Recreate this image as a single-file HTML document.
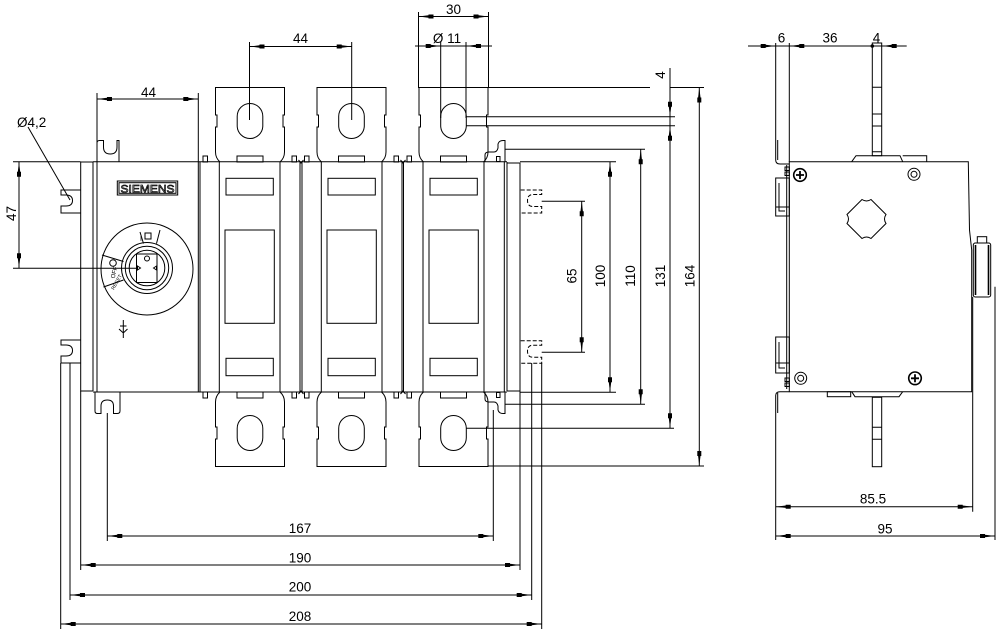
<!DOCTYPE html>
<html><head><meta charset="utf-8">
<style>
html,body{margin:0;padding:0;background:#fff;}
svg{display:block;}
text{font-family:"Liberation Sans",sans-serif;font-size:13.5px;fill:#000;}
</style></head><body>
<svg width="1000" height="632" viewBox="0 0 1000 632" xmlns="http://www.w3.org/2000/svg">
<rect x="0" y="0" width="1000" height="632" fill="#fff"/>
<defs>
<g id="tt" fill="none" stroke="#000" stroke-width="1">
  <path d="M220,162 Q215.5,158 215.5,152 V127 H217 V115 H215.5 V87.5 H284.5 V115 H283 V127 H284.5 V152 Q284.5,158 280,162"/>
  <rect x="237.2" y="103.5" width="25.6" height="35" rx="12.8"/>
  <path d="M321.5,162 Q317,158 317,152 V127 H318.5 V115 H317 V87.5 H386 V115 H384.5 V127 H386 V152 Q386,158 381.5,162"/>
  <rect x="338.7" y="103.5" width="25.6" height="35" rx="12.8"/>
  <path d="M423.5,162 Q419,158 419,152 V127 H420.5 V115 H419 V87.5 H488 V115 H486.5 V127 H488 V152 Q488,158 483.5,162"/>
  <rect x="440.7" y="103.5" width="25.6" height="35" rx="12.8"/>
  <rect x="203" y="156" width="4.5" height="6"/>
  <rect x="292" y="156" width="4.5" height="6"/>
  <rect x="304.5" y="156" width="4.5" height="6"/>
  <rect x="394" y="156" width="4.5" height="6"/>
  <rect x="407" y="156" width="4.5" height="6"/>
  <rect x="237" y="156" width="26" height="6"/>
  <rect x="338.5" y="156" width="26" height="6"/>
  <rect x="440.5" y="156" width="26" height="6"/>
  <path d="M485,162 V155 Q485,152 489,152 L494,152 Q497,152 498,148 V144 Q499,140.5 503,140.5 H505 V162"/>
  <rect x="496.5" y="156.5" width="3.5" height="5"/>
  <path d="M298.5,160 L301,163 L303.5,160 M400.5,160 L403,163 L405.5,160"/>
</g>
</defs>

<g fill="none" stroke="#000" stroke-width="1">
<use href="#tt"/>
<use href="#tt" transform="translate(0,554) scale(1,-1)"/>

<path d="M80.7,162 H93 M80.7,162 V391 H93 M93,162 V391 M97,162 V392"/>
<path d="M93,161.7 H507 M93,392 H507"/>
<path d="M507,162 V391 M507,163 H520 V391 H507"/>
<path d="M198.3,162 V392 M200,162 V392 M219.3,162 V392 M280,162 V392 M300,162 V392 M302,162 V392 M321.3,162 V392 M382,162 V392 M402,162 V392 M403.5,162 V392 M423,162 V392 M484,162 V392 M504.3,162 V392"/>

<rect x="226" y="178.3" width="47.3" height="16.7"/>
<rect x="225" y="230" width="49.3" height="93.3"/>
<rect x="226" y="358.3" width="47.3" height="17.4"/>
<rect x="328" y="178.3" width="47.3" height="16.7"/>
<rect x="327" y="230" width="49.3" height="93.3"/>
<rect x="328" y="358.3" width="47.3" height="17.4"/>
<rect x="430" y="178.3" width="47.3" height="16.7"/>
<rect x="429" y="230" width="49.3" height="93.3"/>
<rect x="430" y="358.3" width="47.3" height="17.4"/>

<path d="M97,162 V143 Q97,140.5 99.5,140.5 H103.5 V147 Q103.5,154 110.3,154 Q117,154 117,147 V140.5 H119 V162"/>
<path d="M95,392 V411 Q95,413.5 97.5,413.5 H101 V406 Q101,400 107.3,400 Q113.5,400 113.5,406 V413.5 H117 Q120,413.5 120,411 V392"/>

<path d="M80.7,190 H61 V195 H66 Q72.5,195 72.5,200.5 Q72.5,206 66,206 H61 V213 H80.7"/>
<path d="M80.7,340 H61 V345 H66 Q72.5,345 72.5,350.5 Q72.5,356 66,356 H61 V363 H80.7"/>
<path stroke-dasharray="4,2" d="M520.7,190 H541.7 V194.5 H533 Q527.5,194.5 527.5,200.5 Q527.5,206.5 533,206.5 H541.7 V213 H520.7"/>
<path stroke-dasharray="4,2" d="M520.7,340.7 H541.7 V345.2 H533 Q527.5,345.2 527.5,351.2 Q527.5,357.2 533,357.2 H541.7 V363.3 H520.7"/>

<rect x="117.3" y="181" width="60.4" height="14"/>
<rect x="119" y="182.7" width="57" height="10.6"/>

<circle cx="147" cy="269" r="46"/>
<circle cx="147" cy="268" r="25.5"/>
<circle cx="147" cy="268" r="21.7"/>
<circle cx="147" cy="268" r="17.8"/>
<rect x="136.5" y="254" width="20.5" height="28.5"/>
<circle cx="147" cy="258.5" r="2.5"/>
<path d="M140.5,268 L137.5,266 V270 Z M153.5,268 L156.5,266 V270 Z"/>
<path d="M140,232 L143.5,243.5 M160,230 L156.5,243.5"/>
<rect x="145" y="233" width="6" height="6"/>
<path d="M102,255 L123.5,261.5 M103.5,287 L123.5,280"/>
<circle cx="113" cy="263" r="3.3"/>
<path d="M123.3,320 V338 M119,329 L123.3,333 L127.5,329 M120,326 H126.5"/>

<path d="M97,93 V162 M198.3,93 V162"/>
<path d="M13,161.7 H80.7 M13,268.3 H137"/>
<path d="M28,127 L70,200"/>
<path d="M249.5,42 V120 M351.7,42 V120"/>
<path d="M418.5,12 V88 M488.5,12 V88"/>
<path d="M440.7,42 V118 M466,42 V118"/>
<path d="M488,87.5 H650 M670,87.5 H704"/>
<path d="M466,116.7 H675 M466,125.7 H675"/>
<path d="M505,149.3 H645 M520,161.7 H616"/>
<path d="M541.7,201.3 H585 M541.7,352.3 H585"/>
<path d="M520,392.3 H616 M505,404.3 H645 M466,428.3 H674 M488,466 H704"/>
<path d="M60.7,363 V629 M70,363 V600 M80.7,391 V570 M107.3,413 V541"/>
<path d="M493.3,410 V541 M520,391 V570 M531.7,363 V600 M541.7,363 V629"/>

<path d="M97,99 H198.3"/>
<path d="M249.5,46.5 H351.7"/>
<path d="M418.5,16.5 H488.5"/>
<path d="M415,46 H492"/>
<path d="M19,161.7 V268.3"/>
<path d="M581.7,201.3 V352.3"/>
<path d="M610,161.7 V392.3"/>
<path d="M640.7,149.3 V404.3"/>
<path d="M670,68 V428.3"/>
<path d="M699.3,87.5 V466"/>
<path d="M107.3,536 H493.3"/>
<path d="M80.7,565 H520"/>
<path d="M70,595 H531.7"/>
<path d="M60.7,624 H541.7"/>

<!-- side view -->
<path d="M789.3,161.7 H968.3 L969.5,230 L971.7,250 V391.7 H789.3 Z"/>
<path d="M786.7,165 V389"/>
<path d="M775.7,43 V160 Q775.7,164 780,164 H789.3 M777.7,140 V160"/>
<path d="M775.7,540 V395.5 Q775.7,391.7 780,391.7 H789.3 M777.7,393 V413"/>
<rect x="775.7" y="178" width="13.6" height="38"/>
<path d="M779,183 V211 H785 M775.7,207 H789.3"/>
<rect x="775.7" y="337" width="13.6" height="36"/>
<path d="M779,342 V368 H785 M775.7,363 H789.3"/>
<rect x="785" y="167" width="4.3" height="3.5"/>
<rect x="785" y="172" width="4.3" height="3.5"/>
<rect x="785" y="378" width="4.3" height="3.5"/>
<rect x="785" y="383" width="4.3" height="3.5"/>
<rect x="872.3" y="43" width="9.4" height="112.7"/>
<path d="M872.3,87.3 H881.7 M872.3,114 H881.7 M872.3,126 H881.7 M872.3,151.7 H881.7"/>
<path d="M851.7,161.7 L856,155.7 H900 L902.7,161.7 M902.7,155.7 H926.7 V161.7"/>
<rect x="872.3" y="397.3" width="9.4" height="69.4"/>
<path d="M872.3,427.3 H881.7 M872.3,439.3 H881.7"/>
<path d="M851.7,391.7 L855,396.7 H899 L902.7,391.7"/>
<rect x="827.3" y="391.7" width="23.4" height="5"/>
<circle cx="800" cy="175" r="6.3" stroke-width="1.6"/>
<path d="M800,171 V179 M796,175 H804" stroke-width="1.8"/>
<circle cx="914" cy="174.3" r="6"/>
<circle cx="914" cy="174.3" r="3"/>
<circle cx="800.7" cy="378.3" r="6"/>
<circle cx="800.7" cy="378.3" r="3"/>
<circle cx="915" cy="378.3" r="6.3" stroke-width="1.6"/>
<path d="M915,374.3 V382.3 M911,378.3 H919" stroke-width="1.8"/>
<path d="M862,199.5 Q866.5,202.5 871,199.5 L886,214.5 Q883,219 886,223.5 L871,238.5 Q866.5,235.5 862,238.5 L847,223.5 Q850,219 847,214.5 Z"/>
<rect x="973.3" y="243" width="17.4" height="54" rx="2"/>
<path d="M975.5,245 V295 M988.5,245 V295" stroke-width="1.6"/>
<rect x="977.3" y="236.7" width="9.4" height="6.3"/>

<path d="M789.3,43 V162"/>
<path d="M972.7,297 V511.7 M995,286.7 V540"/>
<path d="M748,46 H906.7"/>
<path d="M775.7,506.7 H972.7"/>
<path d="M775.7,536 H995"/>
</g>

<g fill="#000" stroke="none">
<path d="M97,99 l10,-1.2 v-0.8 h5 v4 h-5 v-0.8 z"/>
<path d="M198.3,99 l-10,-1.2 v-0.8 h-5 v4 h5 v-0.8 z"/>
<path d="M249.5,46.5 l10,-1.2 v-0.8 h5 v4 h-5 v-0.8 z"/>
<path d="M351.7,46.5 l-10,-1.2 v-0.8 h-5 v4 h5 v-0.8 z"/>
<path d="M418.5,16.5 l10,-1.2 v-0.8 h5 v4 h-5 v-0.8 z"/>
<path d="M488.5,16.5 l-10,-1.2 v-0.8 h-5 v4 h5 v-0.8 z"/>
<path d="M440.7,46 l-10,-1.2 v-0.8 h-5 v4 h5 v-0.8 z"/>
<path d="M466,46 l10,-1.2 v-0.8 h5 v4 h-5 v-0.8 z"/>
<path d="M107.3,536 l10,-1.2 v-0.8 h5 v4 h-5 v-0.8 z"/>
<path d="M493.3,536 l-10,-1.2 v-0.8 h-5 v4 h5 v-0.8 z"/>
<path d="M80.7,565 l10,-1.2 v-0.8 h5 v4 h-5 v-0.8 z"/>
<path d="M520,565 l-10,-1.2 v-0.8 h-5 v4 h5 v-0.8 z"/>
<path d="M70,595 l10,-1.2 v-0.8 h5 v4 h-5 v-0.8 z"/>
<path d="M531.7,595 l-10,-1.2 v-0.8 h-5 v4 h5 v-0.8 z"/>
<path d="M60.7,624 l10,-1.2 v-0.8 h5 v4 h-5 v-0.8 z"/>
<path d="M541.7,624 l-10,-1.2 v-0.8 h-5 v4 h5 v-0.8 z"/>
<path d="M775.7,506.7 l10,-1.2 v-0.8 h5 v4 h-5 v-0.8 z"/>
<path d="M972.7,506.7 l-10,-1.2 v-0.8 h-5 v4 h5 v-0.8 z"/>
<path d="M775.7,536 l10,-1.2 v-0.8 h5 v4 h-5 v-0.8 z"/>
<path d="M995,536 l-10,-1.2 v-0.8 h-5 v4 h5 v-0.8 z"/>
<path d="M775.7,46 l-10,-1.2 v-0.8 h-5 v4 h5 v-0.8 z"/>
<path d="M789.3,46 l10,-1.2 v-0.8 h5 v4 h-5 v-0.8 z"/>
<circle cx="872.3" cy="46" r="1.8"/>
<path d="M881.7,46 l10,-1.2 v-0.8 h5 v4 h-5 v-0.8 z"/>
<path d="M19,161.7 l-1.2,10 h-0.8 v5 h4 v-5 h-0.8 z"/>
<path d="M19,268.3 l-1.2,-10 h-0.8 v-5 h4 v5 h-0.8 z"/>
<path d="M581.7,201.3 l-1.2,10 h-0.8 v5 h4 v-5 h-0.8 z"/>
<path d="M581.7,352.3 l-1.2,-10 h-0.8 v-5 h4 v5 h-0.8 z"/>
<path d="M610,161.7 l-1.2,10 h-0.8 v5 h4 v-5 h-0.8 z"/>
<path d="M610,392.3 l-1.2,-10 h-0.8 v-5 h4 v5 h-0.8 z"/>
<path d="M640.7,149.3 l-1.2,10 h-0.8 v5 h4 v-5 h-0.8 z"/>
<path d="M640.7,404.3 l-1.2,-10 h-0.8 v-5 h4 v5 h-0.8 z"/>
<path d="M670,116.7 l-1.2,-10 h-0.8 v-5 h4 v5 h-0.8 z"/>
<path d="M670,125.7 l-1.2,10 h-0.8 v5 h4 v-5 h-0.8 z"/>
<path d="M670,428.3 l-1.2,-10 h-0.8 v-5 h4 v5 h-0.8 z"/>
<path d="M699.3,87.5 l-1.2,10 h-0.8 v5 h4 v-5 h-0.8 z"/>
<path d="M699.3,466 l-1.2,-10 h-0.8 v-5 h4 v5 h-0.8 z"/>
</g>

<text x="148.5" y="97" text-anchor="middle">44</text>
<text x="17" y="127">Ø4,2</text>
<text x="0" y="0" text-anchor="middle" transform="translate(16,213.5) rotate(-90)">47</text>
<text x="300.5" y="43" text-anchor="middle">44</text>
<text x="453.5" y="14" text-anchor="middle">30</text>
<text x="447" y="43" text-anchor="middle">Ø 11</text>
<text x="0" y="0" text-anchor="middle" transform="translate(665,75) rotate(-90)">4</text>
<text x="0" y="0" text-anchor="middle" transform="translate(576.5,276) rotate(-90)">65</text>
<text x="0" y="0" text-anchor="middle" transform="translate(605,276) rotate(-90)">100</text>
<text x="0" y="0" text-anchor="middle" transform="translate(635,276) rotate(-90)">110</text>
<text x="0" y="0" text-anchor="middle" transform="translate(665,276) rotate(-90)">131</text>
<text x="0" y="0" text-anchor="middle" transform="translate(694.5,276) rotate(-90)">164</text>
<text x="300" y="533" text-anchor="middle">167</text>
<text x="300" y="562.5" text-anchor="middle">190</text>
<text x="300" y="591.5" text-anchor="middle">200</text>
<text x="300" y="621" text-anchor="middle">208</text>
<text x="781.5" y="42.7" text-anchor="middle">6</text>
<text x="830" y="42.7" text-anchor="middle">36</text>
<text x="876.5" y="42.7" text-anchor="middle">4</text>
<text x="873" y="503.3" text-anchor="middle">85.5</text>
<text x="885" y="533.3" text-anchor="middle">95</text>
<text x="147.5" y="192.3" text-anchor="middle" textLength="54" lengthAdjust="spacingAndGlyphs" style="font-size:11px;fill:none;stroke:#000;stroke-width:0.7">SIEMENS</text>
<text x="141" y="241" text-anchor="middle" style="font-size:7px">I</text>
<text x="0" y="0" text-anchor="middle" transform="translate(116,273) rotate(-75)" style="font-size:6px">OFF</text>
<text x="0" y="0" text-anchor="middle" transform="translate(118,283) rotate(-60)" style="font-size:5px">RESET</text>
</svg>
</body></html>
